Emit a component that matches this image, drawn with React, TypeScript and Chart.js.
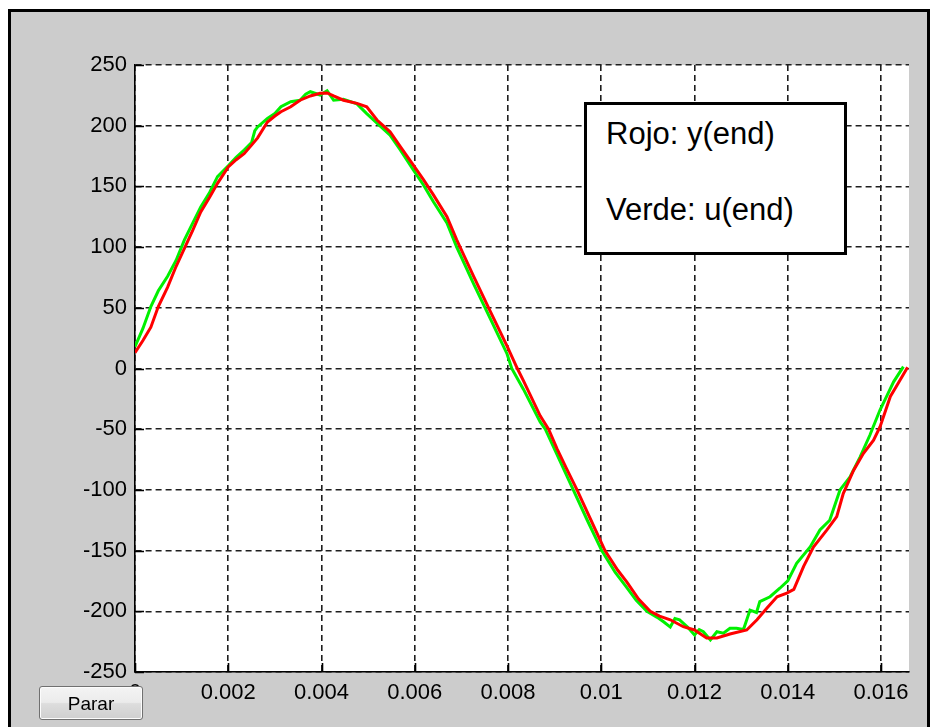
import React, { useEffect, useRef } from 'react';
import { Chart, registerables } from 'chart.js';

Chart.register(...registerables);

// ---- data (time in seconds) ----
const redTime = [
  0, 0.00017, 0.00034, 0.0005, 0.0007, 0.00088, 0.00106, 0.00124, 0.00141, 0.0016,
  0.00177, 0.002, 0.00217, 0.00234, 0.0025, 0.00263, 0.00284, 0.003, 0.00313, 0.00334,
  0.00354, 0.00376, 0.00397, 0.00412, 0.00426, 0.00447, 0.00476, 0.00497, 0.00519, 0.00547,
  0.00569, 0.00597, 0.00619, 0.0064, 0.00669, 0.0069, 0.00726, 0.00762, 0.00798, 0.0082,
  0.00833, 0.00869, 0.00887, 0.00905, 0.00925, 0.00948, 0.00978, 0.01008, 0.01035, 0.01055,
  0.0108, 0.01105, 0.01125, 0.01148, 0.01176, 0.012, 0.01226, 0.01248, 0.01276, 0.01312,
  0.01334, 0.01355, 0.01377, 0.01398, 0.01413, 0.01434, 0.01455, 0.01484, 0.01505, 0.01519,
  0.01541, 0.01562, 0.01584, 0.01598, 0.0162, 0.01634, 0.01657,
];
const redValue = [
  13, 23, 34, 51, 67, 84, 99, 114, 129, 141,
  152.5, 166, 172, 177, 184, 190, 203, 208, 211.5, 215.6,
  221, 224.5, 226.7, 227, 224.5, 221, 218.4, 215.6, 204.7, 195,
  182.7, 167.6, 155.3, 143, 125, 106, 76, 47, 18.5, 0,
  -10, -39, -50, -66, -82, -100, -125, -150, -166, -176,
  -190, -200, -204, -207, -212.7, -215.4, -222, -222, -218.7, -215.4,
  -207, -197.5, -188, -185, -182, -163, -147, -133, -122, -103,
  -84, -70, -59, -48, -23, -14, 1,
];
const greenTime = [
  0, 0.00017, 0.00034, 0.0005, 0.0007, 0.00088, 0.00106, 0.00124, 0.00141, 0.0016,
  0.00177, 0.002, 0.00217, 0.00234, 0.0025, 0.00257, 0.00263, 0.00284, 0.003, 0.00313,
  0.00334, 0.00354, 0.00366, 0.00376, 0.00397, 0.00412, 0.00426, 0.00447, 0.00476, 0.00497,
  0.00519, 0.00547, 0.00569, 0.00597, 0.00619, 0.0064, 0.00669, 0.0069, 0.00726, 0.00762,
  0.00798, 0.00808, 0.00833, 0.00869, 0.0088, 0.0094, 0.0097, 0.01001, 0.0103, 0.0105,
  0.01075, 0.01098, 0.0112, 0.01135, 0.01148, 0.01158, 0.01168, 0.01185, 0.012, 0.0121,
  0.01219, 0.01234, 0.01248, 0.01262, 0.01276, 0.0129, 0.01305, 0.01319, 0.01333, 0.0134,
  0.01362, 0.01383, 0.014, 0.01419, 0.01448, 0.01469, 0.0149, 0.01512, 0.01534, 0.01555,
  0.01576, 0.01598, 0.01612, 0.01627, 0.01648,
];
const greenValue = [
  18, 33, 51, 64, 76, 89, 106, 120, 133, 145,
  158, 167, 174, 180, 186, 196, 199, 206, 210, 215.6,
  219.8, 221, 226, 228, 225.3, 228.8, 221, 221.7, 218, 210,
  202, 192.3, 180, 163.5, 151, 137.4, 120, 100, 70, 41,
  12, 0, -17, -44, -50, -100, -125, -150, -168, -178,
  -191, -200, -205, -209, -213, -206, -207, -213, -219.5, -215,
  -216.8, -223.6, -216.8, -218, -214, -214, -215, -199, -201, -192,
  -188, -181, -175, -160.5, -147, -133, -125, -100, -89, -73,
  -55, -34, -23, -11, 1.5,
];

const xTickValues = [0, 0.002, 0.004, 0.006, 0.008, 0.01, 0.012, 0.014, 0.016];
const xTickLabels = ['0', '0.002', '0.004', '0.006', '0.008', '0.01', '0.012', '0.014', '0.016'];
const yTickValues = [-250, -200, -150, -100, -50, 0, 50, 100, 150, 200, 250];
const yTickLabels = ['-250', '-200', '-150', '-100', '-50', '0', '50', '100', '150', '200', '250'];
const legendLines = ['Rojo: y(end)', 'Verde: u(end)'];
const buttonLabel = 'Parar';

const FONT = '"Liberation Sans", Arial, Helvetica, sans-serif';

export default function App() {
  const canvasRef = useRef<HTMLCanvasElement | null>(null);

  useEffect(() => {
    const canvas = canvasRef.current;
    if (!canvas) return;

    const plotBg = {
      id: 'plotBg',
      beforeDraw(chart: any) {
        const { ctx, chartArea: a } = chart;
        ctx.save();
        ctx.fillStyle = '#ffffff';
        ctx.fillRect(a.left, a.top, a.right - a.left, a.bottom - a.top);
        ctx.restore();
      },
    };

    const innerTicks = {
      id: 'innerTicks',
      beforeDatasetsDraw(chart: any) {
        const { ctx, chartArea: a, scales } = chart;
        ctx.save();
        ctx.strokeStyle = '#000';
        ctx.lineWidth = 1.6;
        ctx.beginPath();
        for (const v of xTickValues) {
          const px = Math.round(scales.x.getPixelForValue(v)) + 0.5;
          ctx.moveTo(px, a.bottom);
          ctx.lineTo(px, a.bottom - 9);
        }
        for (const v of yTickValues) {
          const py = Math.round(scales.y.getPixelForValue(v)) + 0.5;
          ctx.moveTo(a.left, py);
          ctx.lineTo(a.left + 9, py);
        }
        ctx.stroke();
        ctx.restore();
      },
    };

    const tickFont = { family: FONT, size: 22 };

    const chart = new Chart(canvas, {
      type: 'line',
      data: {
        datasets: [
          {
            label: 'y(end)',
            data: redTime.map((t, i) => ({ x: t, y: redValue[i] })),
            borderColor: '#ff0000',
            borderWidth: 3,
            pointRadius: 0,
            tension: 0,
            fill: false,
          },
          {
            label: 'u(end)',
            data: greenTime.map((t, i) => ({ x: t, y: greenValue[i] })),
            borderColor: '#00f000',
            borderWidth: 3,
            pointRadius: 0,
            tension: 0,
            fill: false,
          },
        ],
      },
      options: {
        animation: false,
        responsive: false,
        maintainAspectRatio: false,
        layout: { padding: { left: 0, top: 65, right: 22, bottom: 0 } },
        plugins: {
          legend: { display: false },
          tooltip: { enabled: false },
        },
        scales: {
          x: {
            type: 'linear',
            min: 0,
            max: 0.0166,
            afterBuildTicks: (s: any) => {
              s.ticks = xTickValues.map((v) => ({ value: v }));
            },
            afterFit: (s: any) => {
              s.height = 55;
            },
            ticks: {
              callback: (_v: any, i: number) => xTickLabels[i],
              color: '#000',
              font: tickFont,
              padding: 8,
              maxRotation: 0,
              autoSkip: false,
            },
            grid: { color: '#1e1e1e', lineWidth: 1.6, drawTicks: false },
            border: { display: true, color: '#000', width: 1.6, dash: [6, 4] },
          },
          y: {
            type: 'linear',
            min: -250,
            max: 250,
            afterBuildTicks: (s: any) => {
              s.ticks = yTickValues.map((v) => ({ value: v }));
            },
            afterFit: (s: any) => {
              s.width = 135;
            },
            ticks: {
              callback: (_v: any, i: number) => yTickLabels[i],
              color: '#000',
              font: tickFont,
              padding: 8,
              autoSkip: false,
            },
            grid: { color: '#1e1e1e', lineWidth: 1.6, drawTicks: false },
            border: { display: true, color: '#000', width: 1.6, dash: [6, 4] },
          },
        },
      },
      plugins: [plotBg, innerTicks],
    } as any);

    return () => chart.destroy();
  }, []);

  return (
    <div>
      <div
        style={{
          position: 'fixed',
          left: 8,
          top: 9,
          width: 922,
          height: 740,
          boxSizing: 'border-box',
          border: '3px solid #000',
          background: '#cccccc',
        }}
      />
      <canvas
        ref={canvasRef}
        width={931}
        height={727}
        style={{ position: 'fixed', left: 0, top: 0, width: 931, height: 727 }}
      />
      <div
        style={{
          position: 'fixed',
          left: 584,
          top: 102,
          width: 263,
          height: 153,
          boxSizing: 'border-box',
          border: '3px solid #000',
          background: '#ffffff',
          fontFamily: FONT,
          fontSize: 31,
          lineHeight: '31px',
          color: '#000',
        }}
      >
        <div style={{ position: 'absolute', left: 19, top: 13, whiteSpace: 'nowrap' }}>{legendLines[0]}</div>
        <div style={{ position: 'absolute', left: 19, top: 89, whiteSpace: 'nowrap' }}>{legendLines[1]}</div>
      </div>
      <div
        style={{
          position: 'fixed',
          left: 39,
          top: 686,
          width: 104,
          height: 34,
          boxSizing: 'border-box',
          border: '1px solid #707070',
          borderRadius: 3,
          background: 'linear-gradient(#f4f4f4 0%, #ebebeb 48%, #dddddd 52%, #cfcfcf 100%)',
          boxShadow: 'inset 0 0 0 1px #fcfcfc',
          fontFamily: FONT,
          fontSize: 19,
          color: '#000',
          display: 'flex',
          alignItems: 'center',
          justifyContent: 'center',
          paddingTop: 2,
        }}
      >
        {buttonLabel}
      </div>
    </div>
  );
}
